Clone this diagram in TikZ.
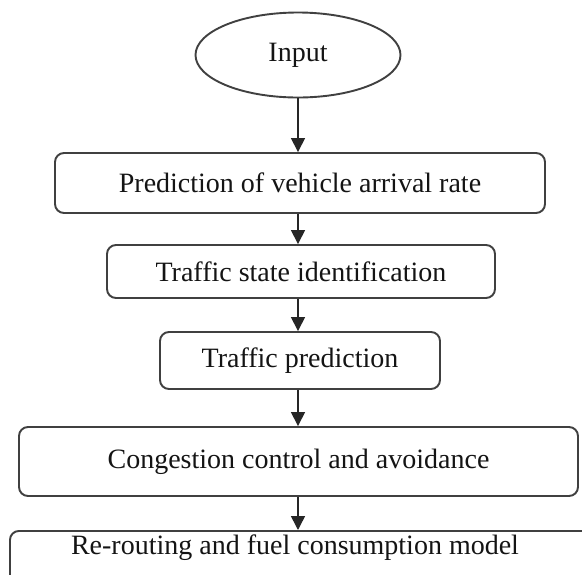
\documentclass[tikz,border=0pt]{standalone}
\usepackage{fontspec}
\setmainfont{Liberation Serif}
\usetikzlibrary{shapes.geometric,arrows.meta}
\begin{document}
\begin{tikzpicture}[x=1pt,y=-1pt,
 lbl/.style={font=\fontsize{28}{30}\selectfont,text=black!92},
 box/.style={lbl,draw=black!75,line width=1.9pt,rounded corners=9pt,inner sep=0pt},
 arr/.style={draw=black!85,line width=1.5pt,-{Triangle[length=14pt,width=14pt]}}]
\clip (0,0) rectangle (582,574);
\fill[white] (0,0) rectangle (582,574);
\node[lbl,ellipse,draw=black!75,line width=1.9pt,minimum width=205pt,minimum height=85pt,inner sep=0pt] (in) at (298,55) {Input};
\node[box,minimum width=490pt,minimum height=60pt] (b1) at (300,183) {Prediction of vehicle arrival rate};
\node[box,minimum width=388pt,minimum height=53pt] (b2) at (301,271.5) {Traffic state identification};
\node[box,minimum width=280pt,minimum height=57pt] (b3) at (300,360.5) {Traffic prediction};
\node[box,minimum width=559pt,minimum height=69pt] (b4) at (298.5,461.5) {Congestion control and avoidance};
\node[box,anchor=north west,minimum width=590pt,minimum height=70pt] (b5) at (9,530) {};
\node[lbl] (t5) at (295,548) {Re-routing and fuel consumption model};
\draw[arr] (in.south) -- (in.south |- b1.north);
\draw[arr] (in.south |- b1.south) -- (in.south |- b2.north);
\draw[arr] (in.south |- b2.south) -- (in.south |- b3.north);
\draw[arr] (in.south |- b3.south) -- (in.south |- b4.north);
\draw[arr] (in.south |- b4.south) -- (in.south |- b5.north);
\end{tikzpicture}
\end{document}
